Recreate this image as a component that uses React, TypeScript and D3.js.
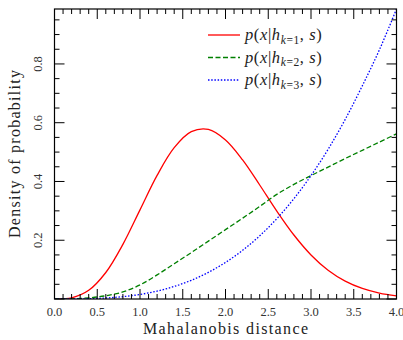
import React from 'react';
import * as d3 from 'd3';

const xs = [0, 0.2, 0.4, 0.6, 0.8, 1.0, 1.2, 1.4, 1.6, 1.8, 2.0, 2.2, 2.4, 2.6, 2.8, 3.0, 3.2, 3.4, 3.6, 3.8, 4.0];
const red = [0, 0.0039, 0.0295, 0.0902, 0.1859, 0.3033, 0.4206, 0.5149, 0.5694, 0.5771, 0.5413, 0.4734, 0.388, 0.2992, 0.2178, 0.15, 0.0979, 0.0607, 0.0358, 0.0201, 0.0107];
const green = [0, 0.0005, 0.004, 0.011, 0.024, 0.048, 0.082, 0.12, 0.158, 0.197, 0.236, 0.275, 0.315, 0.356, 0.39, 0.42, 0.449, 0.478, 0.506, 0.534, 0.562];
const blue = [0, 0.0001, 0.001, 0.0034, 0.008, 0.0156, 0.0269, 0.0427, 0.0637, 0.0907, 0.1244, 0.1656, 0.215, 0.2733, 0.3414, 0.42, 0.5095, 0.6112, 0.7255, 0.848, 0.987];
const xTicks = [0, 0.5, 1.0, 1.5, 2.0, 2.5, 3.0, 3.5, 4.0];
const yTicks = [0.2, 0.4, 0.6, 0.8];

const series = [
  { sub: '=1', values: red, color: '#ff0000', dash: undefined },
  { sub: '=2', values: green, color: '#008000', dash: '5,2.5' },
  { sub: '=3', values: blue, color: '#0000ff', dash: '1.5,1.7' },
];

const W = 403, H = 340;
const left = 54.5, right = 396.5, top = 9, bottom = 299;
const font = '"Liberation Serif", "DejaVu Serif", serif';

const App = () => {
  const x = d3.scaleLinear().domain([0, 4]).range([left, right]);
  const y = d3.scaleLinear().domain([0, 0.987]).range([bottom, top]);

  const line = (vals: number[]) =>
    d3.line<number>()
      .x((d, i) => x(xs[i]))
      .y(d => y(d))
      .curve(d3.curveCatmullRom)(vals) || '';

  const xMinor = d3.range(0, 41).map(i => i / 10);
  const yMinor = d3.range(0, 20).map(i => i / 20);

  return (
    <svg width={W} height={H} style={{ position: 'absolute', left: 0, top: 0, background: '#fff' }}>
      <defs>
        <clipPath id="plot">
          <rect x={left} y={top} width={right - left} height={bottom - top} />
        </clipPath>
      </defs>

      {series.map((s, i) => (
        <path key={i} d={line(s.values)} fill="none" stroke={s.color} strokeWidth={1.3}
          strokeDasharray={s.dash} clipPath="url(#plot)" />
      ))}

      {/* ticks, inward on all four sides */}
      <g stroke="#000" strokeWidth={1}>
        {xMinor.map((v, i) => {
          const len = i % 5 === 0 ? 10 : 5;
          return (
            <g key={'x' + i}>
              <line x1={x(v)} x2={x(v)} y1={bottom} y2={bottom - len} />
              <line x1={x(v)} x2={x(v)} y1={top} y2={top + len} />
            </g>
          );
        })}
        {yMinor.map((v, i) => {
          const len = i % 4 === 0 ? 10 : 5;
          return (
            <g key={'y' + i}>
              <line x1={left} x2={left + len} y1={y(v)} y2={y(v)} />
              <line x1={right} x2={right - len} y1={y(v)} y2={y(v)} />
            </g>
          );
        })}
      </g>
      <rect x={left} y={top} width={right - left} height={bottom - top} fill="none" stroke="#000" strokeWidth={1.2} />

      <g fontFamily={font} fontSize={12.5} fill="#333">
        {xTicks.map(v => (
          <text key={v} x={x(v)} y={316} textAnchor="middle">{v.toFixed(1)}</text>
        ))}
        {yTicks.map(v => (
          <text key={v} transform={`translate(42,${y(v)}) rotate(-90)`} textAnchor="middle">{v.toFixed(1)}</text>
        ))}
      </g>

      <text x={(left + right) / 2} y={334} textAnchor="middle" fontFamily={font} fontSize={16}
        textLength={165} lengthAdjust="spacing" fill="#222">
        Mahalanobis distance
      </text>
      <text transform={`translate(20,${(top + bottom) / 2}) rotate(-90)`} textAnchor="middle"
        fontFamily={font} fontSize={16} textLength={168} lengthAdjust="spacing" fill="#222">
        Density of probability
      </text>

      {/* legend */}
      <g fontFamily={font} fontSize={16.5} fill="#222" letterSpacing={0.6}>
        {series.map((s, i) => {
          const ly = 35 + i * 22.5;
          return (
            <g key={i}>
              <line x1={208} x2={240} y1={ly} y2={ly} stroke={s.color} strokeWidth={1.3} strokeDasharray={s.dash} />
              <text x={245} y={ly + 5}>
                <tspan fontStyle="italic">p</tspan>(<tspan fontStyle="italic">x</tspan>|<tspan fontStyle="italic">h</tspan>
                <tspan dy={3.5} fontSize={11.5} fontStyle="italic">k</tspan>
                <tspan fontSize={11.5}>{s.sub}</tspan>
                <tspan dy={-3.5}>, </tspan><tspan fontStyle="italic">s</tspan>)
              </text>
            </g>
          );
        })}
      </g>
    </svg>
  );
};

export default App;
